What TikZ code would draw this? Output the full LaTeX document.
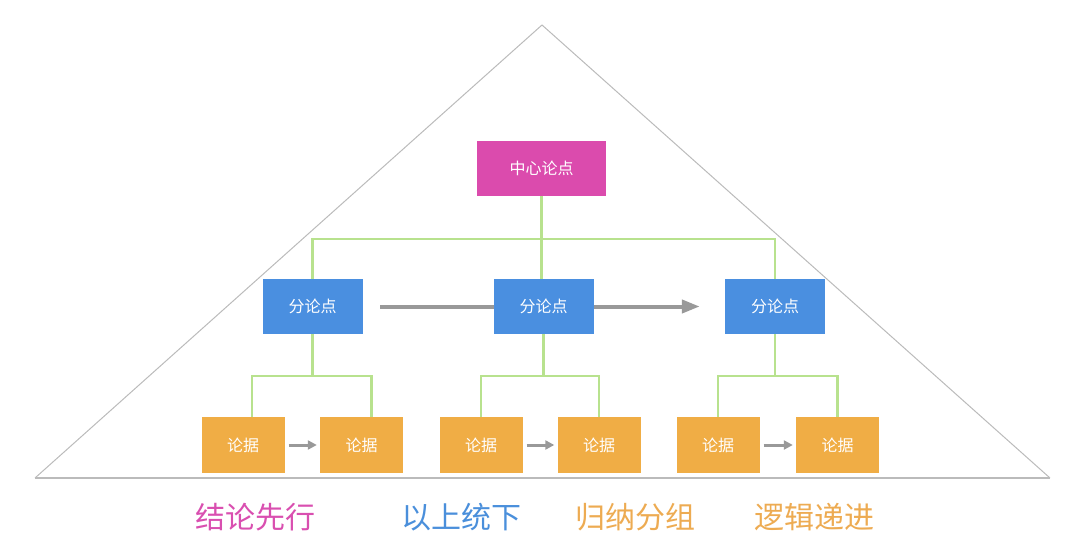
\documentclass[tikz,border=0pt]{standalone}
\usepackage{fontspec}
\setmainfont{Noto Sans CJK SC}
\usetikzlibrary{arrows.meta,backgrounds}
\definecolor{cpink}{HTML}{DB4BAD}
\definecolor{cblue}{HTML}{4A8FE0}
\definecolor{corange}{HTML}{F0AD45}
\definecolor{cgreen}{HTML}{B8E28E}
\definecolor{carrow}{HTML}{999999}
\definecolor{ctri}{HTML}{BBBBBB}
\definecolor{lpink}{HTML}{D94FB0}
\definecolor{lblue}{HTML}{4A8FDB}
\definecolor{lorange}{HTML}{EDAB52}
\tikzset{
  box/.style={rectangle, inner sep=0pt, text=white, font=\fontsize{16}{18}\selectfont},
  topbox/.style={box, fill=cpink, minimum width=129pt, minimum height=55pt},
  midbox/.style={box, fill=cblue, minimum width=100pt, minimum height=55pt},
  leafbox/.style={box, fill=corange, minimum width=83pt, minimum height=56pt},
  tree/.style={draw=cgreen, line width=2.2pt},
  bigarrow/.style={draw=carrow, line width=4pt, -{Triangle[length=18pt,width=13pt]}},
  smallarrow/.style={draw=carrow, line width=3pt, -{Triangle[length=9pt,width=9pt]}},
  tri/.style={draw=ctri, line width=1pt},
  label/.style={font=\fontsize{30}{34}\selectfont, anchor=center},
}
\begin{document}
\begin{tikzpicture}[x=1pt,y=-1pt]
\useasboundingbox (0,0) rectangle (1080,559);
% triangle
\coordinate (tl) at (35,478);
\coordinate (ta) at (542,25);
\coordinate (tr) at (1050,478);
\draw[tri] (tl) -- (ta) -- (tr);
\draw[draw=ctri, line width=2pt] (tl) -- (tr);
% nodes
\node[topbox] (c) at (541.5,168.5) {中心论点};
\node[midbox] (m1) at (312.5,306.5) {分论点};
\node[midbox] (m2) at (543.5,306.5) {分论点};
\node[midbox] (m3) at (775,306.5) {分论点};
\node[leafbox] (b11) at (243,445) {论据};
\node[leafbox] (b12) at (361.5,445) {论据};
\node[leafbox] (b21) at (481,445) {论据};
\node[leafbox] (b22) at (599,445) {论据};
\node[leafbox] (b31) at (718,445) {论据};
\node[leafbox] (b32) at (837.5,445) {论据};
% junctions
\coordinate (j0) at (541.5,239);
\coordinate (j1) at (312.5,376);
\coordinate (j2) at (543.5,376);
\coordinate (j3) at (775,376);
\begin{pgfonlayer}{background}
\draw[tree] (c.south) -- (j0);
\draw[tree] (m1.north) |- (j0) -| (m3.north);
\draw[tree] (j0) -- (j0 |- m2.north);
\draw[tree] (m1.south) -- (j1);
\draw[tree] ([xshift=9pt]b11.north) |- (j1) -| ([xshift=10pt]b12.north);
\draw[tree] (m2.south) -- (j2);
\draw[tree] (b21.north) |- (j2) -| (b22.north);
\draw[tree] (m3.south) -- (j3);
\draw[tree] (b31.north) |- (j3) -| (b32.north);
\coordinate (as) at (380,306.5);
\draw[bigarrow, shorten >=25pt] (as) -- (m3.west);
\end{pgfonlayer}
\draw[smallarrow, shorten <=4pt, shorten >=3pt] (b11.east) -- (b12.west);
\draw[smallarrow, shorten <=4pt, shorten >=3pt] (b21.east) -- (b22.west);
\draw[smallarrow, shorten <=4pt, shorten >=3pt] (b31.east) -- (b32.west);
% labels
\node[label, text=lpink] (l1) at (255.5,517) {结论先行};
\node[label, text=lblue] (l2) at (461.5,517) {以上统下};
\node[label, text=lorange] (l3) at (635.5,517) {归纳分组};
\node[label, text=lorange] (l4) at (814.5,517) {逻辑递进};
\end{tikzpicture}
\end{document}
